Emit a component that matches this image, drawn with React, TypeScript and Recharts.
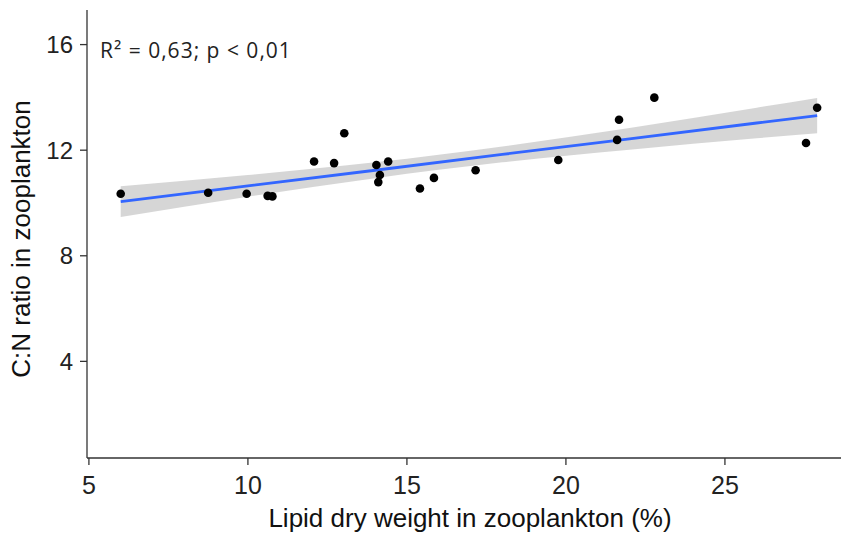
import {
  ComposedChart,
  Scatter,
  Area,
  Line,
  XAxis,
  YAxis,
  Label,
} from "recharts";

// measured points: lipid % vs C:N ratio
const lipid = [
  6.0, 8.75, 9.96, 10.62, 10.77, 12.08, 12.71, 13.03, 14.04, 14.41,
  14.15, 14.1, 15.41, 15.85, 17.16, 19.76, 21.67, 21.61, 22.78, 27.55, 27.9,
];
const cnRatio = [
  10.35, 10.39, 10.35, 10.27, 10.25, 11.57, 11.51, 12.64, 11.44, 11.57,
  11.06, 10.79, 10.55, 10.95, 11.24, 11.63, 13.15, 12.39, 13.99, 12.27, 13.61,
];

// fitted line + confidence band
const fitX = [6, 10, 14, 18, 22, 26, 27.9];
const fitY = [10.05, 10.65, 11.24, 11.84, 12.43, 13.03, 13.31];
const bandLow = [9.47, 10.24, 10.94, 11.54, 12.02, 12.45, 12.64];
const bandHigh = [10.63, 11.06, 11.54, 12.14, 12.84, 13.61, 13.98];

const xTicks = [5, 10, 15, 20, 25];
const yTicks = [4, 8, 12, 16];

const points = lipid.map((x, i) => ({ x, y: cnRatio[i] }));
const fit = fitX.map((x, i) => ({
  x,
  fit: fitY[i],
  band: [bandLow[i], bandHigh[i]],
}));

const FONT = "'Liberation Sans', Arial, sans-serif";

const Dot = (props: any) => (
  <circle cx={props.cx} cy={props.cy} r={4.3} fill="#000" />
);

export default function App() {
  return (
    <div
      style={{
        position: "absolute",
        left: 0,
        top: 0,
        width: 841,
        height: 535,
        background: "#fff",
      }}
    >
      <ComposedChart
        width={841}
        height={535}
        data={fit}
        margin={{ top: 10, right: 0, left: 0, bottom: 0 }}
      >
        <XAxis
          dataKey="x"
          type="number"
          domain={[4.94, 28.65]}
          allowDataOverflow
          ticks={xTicks}
          height={77}
          tickSize={7}
          tickMargin={11}
          stroke="#333"
          strokeWidth={1.3}
          tick={{ fill: "#222", fontSize: 25, fontFamily: FONT }}
        >
          <Label
            value="Lipid dry weight in zooplankton (%)"
            position="insideBottom"
            offset={8}
            style={{ fill: "#111", fontSize: 26, fontFamily: FONT }}
            dx={6}
          />
        </XAxis>
        <YAxis
          type="number"
          domain={[0.34, 17.31]}
          allowDataOverflow
          ticks={yTicks}
          width={87}
          tickSize={7}
          tickMargin={7}
          stroke="#333"
          strokeWidth={1.3}
          tick={{ fill: "#222", fontSize: 24, fontFamily: FONT }}
        >
          <Label
            value="C:N ratio in zooplankton"
            angle={-90}
            position="insideLeft"
            offset={21}
            dy={5}
            style={{
              fill: "#111",
              fontSize: 26,
              fontFamily: FONT,
              textAnchor: "middle",
            }}
          />
        </YAxis>
        <Scatter
          data={points}
          dataKey="y"
          shape={<Dot />}
          isAnimationActive={false}
        />
        <Area
          dataKey="band"
          type="monotone"
          fill="#999999"
          fillOpacity={0.4}
          stroke="none"
          isAnimationActive={false}
        />
        <Line
          dataKey="fit"
          type="linear"
          stroke="#3366FF"
          strokeWidth={2.8}
          dot={false}
          activeDot={false}
          isAnimationActive={false}
        />
      </ComposedChart>
      <div
        style={{
          position: "absolute",
          left: 100,
          top: 36,
          fontFamily: "'Open Sans', sans-serif",
          fontSize: 21,
          letterSpacing: 1,
          color: "#222",
          whiteSpace: "nowrap",
        }}
      >
        R² = 0,63; p &lt; 0,01
      </div>
    </div>
  );
}
